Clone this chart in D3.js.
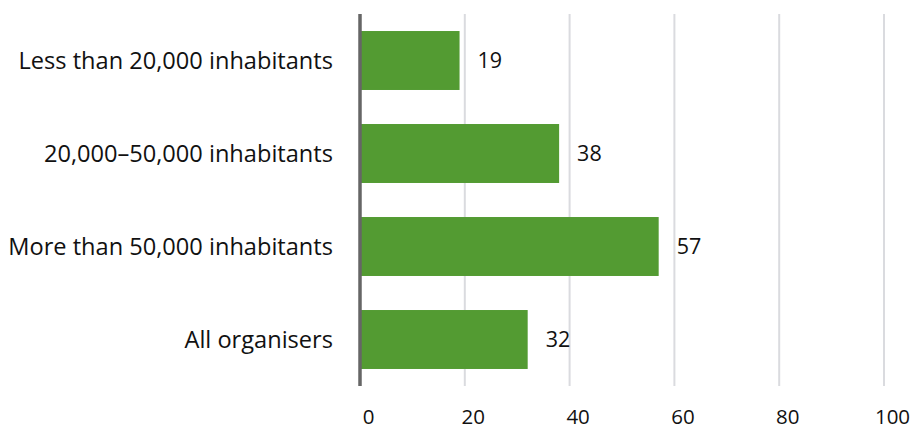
<!DOCTYPE html>
<html>
<head>
<meta charset="utf-8">
<script src="https://cdn.jsdelivr.net/npm/d3@7"></script>
<style>
  html, body { margin: 0; padding: 0; background: #fff; }
  svg { display: block; }
  text { font-family: "Source Sans Pro", "Open Sans", "Noto Sans", sans-serif; fill: #111; }
</style>
</head>
<body>
<svg id="chart" width="914" height="430"></svg>
<script>
// Share of organisers, by municipality size (%)
const categories = [
  "Less than 20,000 inhabitants",
  "20,000\u201350,000 inhabitants",
  "More than 50,000 inhabitants",
  "All organisers"
];
const values = [19, 38, 57, 32];
const tickValues = [0, 20, 40, 60, 80, 100];

const svg = d3.select("#chart");
const margin = { top: 14, right: 30, bottom: 44, left: 360 };
const height = 430 - margin.top - margin.bottom;

const x = d3.scaleLinear().domain([0, 100]).range([0, 524]);
const y = d3.scaleBand().domain(categories).range([0, height]).paddingInner(0.366).paddingOuter(0.183);

const g = svg.append("g").attr("transform", `translate(${margin.left},${margin.top})`);

// vertical gridlines
g.selectAll("line.grid")
  .data(tickValues.filter(d => d > 0))
  .join("line")
  .attr("class", "grid")
  .attr("x1", d => x(d)).attr("x2", d => x(d))
  .attr("y1", 0).attr("y2", height)
  .attr("stroke", "#dadbdf")
  .attr("stroke-width", 2);

// bars
g.selectAll("rect.bar")
  .data(values)
  .join("rect")
  .attr("class", "bar")
  .attr("x", x(0))
  .attr("y", (d, i) => y(categories[i]))
  .attr("width", d => x(d) - x(0))
  .attr("height", y.bandwidth())
  .attr("fill", "#539b32");

// value labels
g.selectAll("text.value")
  .data(values)
  .join("text")
  .attr("class", "value")
  .attr("x", d => x(d) + 18)
  .attr("y", (d, i) => y(categories[i]) + y.bandwidth() / 2)
  .attr("dy", "0.36em")
  .attr("font-size", 21.5)
  .text(d => d);

// zero baseline
g.append("line")
  .attr("x1", x(0)).attr("x2", x(0))
  .attr("y1", 0).attr("y2", height)
  .attr("stroke", "#666")
  .attr("stroke-width", 3.5);

// x axis labels (baseline kept just inside the bottom edge)
const xAxis = d3.axisBottom(x).tickValues(tickValues).tickSize(0).tickPadding(0);
const xa = g.append("g").attr("transform", `translate(8,${height + 38})`).call(xAxis);
xa.select(".domain").remove();
xa.selectAll("text").attr("font-size", 20.5).attr("fill", "#111").attr("dy", 0).attr("font-family", null);

// category labels
const yAxis = d3.axisLeft(y).tickSize(0).tickPadding(27);
const ya = g.append("g").call(yAxis);
ya.select(".domain").remove();
ya.selectAll("text").attr("font-size", 23.6).attr("fill", "#111").attr("dy", "0.36em").attr("font-family", null);
</script>
</body>
</html>
